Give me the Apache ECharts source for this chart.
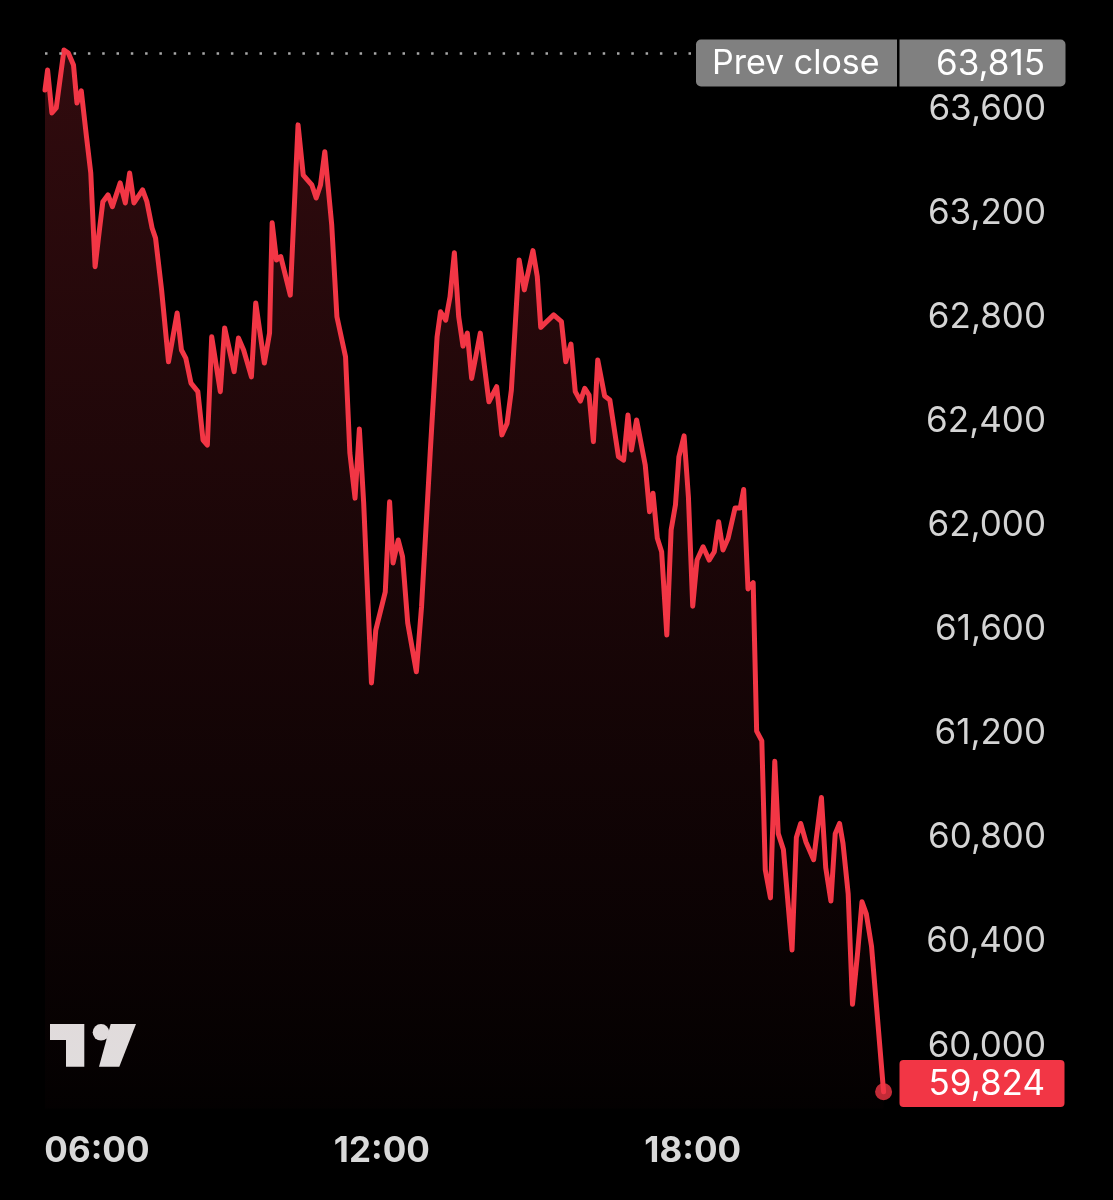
<!DOCTYPE html>
<html><head><meta charset="utf-8">
<script src="https://cdn.jsdelivr.net/npm/echarts@6/dist/echarts.min.js"></script>
<style>html,body{margin:0;padding:0;background:#000;}#c{width:1113px;height:1200px;}</style>
</head><body><div id="c"></div>
<script>
// time of each point, in minutes after midnight
const minutes = [330,333,338,343,352,357,363,367,372,378,
383,388,393,397,403,408,417,423,428,433,
443,448,454,458,465,473,483,488,493,499,
507,513,518,523,533,538,549,554,560,569,
574,584,590,593,598,603,614,623,629,639,
644,649,654,662,668,678,683,689,694,699,
708,713,724,729,733,739,744,750,760,766,
776,784,788,794,799,804,809,814,819,824,
834,844,853,859,865,870,879,885,895,900,
904,919,928,933,939,944,950,955,960,965,
970,978,984,994,1000,1005,1009,1015,1025,1030,
1034,1039,1044,1050,1055,1060,1064,1070,1075,1080,
1085,1092,1099,1105,1110,1115,1121,1129,1135,1139,
1144,1150,1154,1160,1164,1170,1175,1179,1185,1195,
1200,1205,1211,1220,1229,1234,1240,1245,1250,1254,
1260,1265,1271,1276,1281,1287,1301];
const prices = [63673,63750,63585,63604,63827,63815,63769,63623,63670,63494,
63354,62994,63135,63244,63270,63225,63316,63239,63354,63239,
63289,63244,63143,63104,62905,62629,62816,62674,62643,62547,
62514,62328,62309,62725,62514,62759,62591,62720,62674,62571,
62855,62624,62739,63163,63020,63033,62885,63539,63346,63308,
63258,63308,63436,63154,62802,62648,62278,62105,62371,62086,
61395,61598,61745,62091,61856,61944,61880,61625,61438,61688,
62278,62725,62821,62789,62879,63048,62802,62689,62739,62565,
62739,62475,62533,62348,62392,62520,63020,62905,63056,62956,
62761,62809,62783,62629,62697,62514,62478,62527,62501,62322,
62636,62497,62482,62264,62251,62424,62290,62405,62232,62053,
62124,61951,61899,61579,61983,62079,62264,62344,62110,61690,
61867,61918,61867,61899,62014,61906,61951,62067,62067,62138,
61756,61780,61210,61172,60677,60569,61094,60816,60755,60369,
60801,60855,60785,60716,60955,60685,60557,60816,60855,60778,
60585,60160,60361,60554,60508,60384,59824];
const priceTicks = [60000,60400,60800,61200,61600,62000,62400,62800,63200,63600];
const timeTicks = [360,720,1080];
const timeLabels = ['06:00','12:00','18:00'];
const prevClose = 63815;
const prevCloseText = 'Prev close';

const RED = '#f23645';
const FONT = 'Inter, "Noto Sans", sans-serif';
const fmt = v => Math.round(v).toLocaleString('en-US');
const lastIdx = prices.length - 1;

const chart = echarts.init(document.getElementById('c'), null, {renderer:'canvas'});
chart.setOption({
  backgroundColor:'#000',
  animation:false,
  grid:{left:45, right:213, top:36.12, bottom:91.53, containLabel:false, outerBoundsMode:'none'},
  xAxis:{
    type:'value', min:330, max:1320,
    axisLine:{show:false}, axisTick:{show:false}, splitLine:{show:false},
    axisLabel:{
      customValues:timeTicks, margin:25, hideOverlap:false,
      formatter:(v)=>{ const i=timeTicks.indexOf(v); const s=timeLabels[i]; return i===0?'{f|'+s+'}':'{n|'+s+'}'; },
      rich:{
        f:{color:'#d9d9d9', fontFamily:FONT, fontWeight:'bold', fontSize:35, lineHeight:36, padding:[0,0,0,52]},
        n:{color:'#d9d9d9', fontFamily:FONT, fontWeight:'bold', fontSize:35, lineHeight:36}
      }
    }
  },
  yAxis:{
    type:'value', position:'right', min:59760, max:63880, scale:true,
    axisLine:{show:false}, axisTick:{show:false}, splitLine:{show:false},
    axisLabel:{customValues:priceTicks, formatter:fmt, color:'#d4d4d4', fontFamily:FONT, fontSize:35, align:'right', margin:146}
  },
  series:[
    {
      type:'line', data:minutes.map((m,i)=>[m,prices[i]]),
      symbol:'none', smooth:false,
      lineStyle:{color:RED, width:5, join:'round', cap:'round'},
      areaStyle:{color:new echarts.graphic.LinearGradient(0,0,0,1,[
        {offset:0,color:'rgba(242,54,69,0.29)'},
        {offset:1,color:'rgba(242,54,69,0.02)'}])},
      markLine:{
        silent:true, symbol:['none','none'], label:{show:false},
        lineStyle:{color:'#a8a8a8', type:[2.5,11.8], width:2.5},
        data:[{yAxis:prevClose}]
      },
      z:3
    },
    {
      type:'scatter', data:[[minutes[lastIdx], prices[lastIdx]]],
      symbolSize:17, itemStyle:{color:RED}, z:4
    }
  ],
  graphic:[
    {type:'rect', shape:{x:694, y:38, width:374, height:51}, style:{fill:'#000'}, z:10},
    {type:'rect', shape:{x:696, y:39.5, width:201, height:47, r:[5,0,0,5]}, style:{fill:'#808080'}, z:11},
    {type:'rect', shape:{x:899.5, y:39.5, width:166, height:47, r:[0,5,5,0]}, style:{fill:'#808080'}, z:11},
    {type:'text', x:712, y:64, style:{text:prevCloseText, fill:'#fff', font:'34px '+FONT, verticalAlign:'middle', textAlign:'left'}, z:12},
    {type:'text', x:1045, y:64, style:{text:fmt(prevClose), fill:'#fff', font:'35px '+FONT, verticalAlign:'middle', textAlign:'right'}, z:12},
    {type:'rect', shape:{x:899.5, y:1060, width:165, height:47, r:4}, style:{fill:RED}, z:11},
    {type:'text', x:1045, y:1084, style:{text:fmt(prices[lastIdx]), fill:'#fff', font:'35px '+FONT, verticalAlign:'middle', textAlign:'right'}, z:12},
    {type:'group', z:12, children:[
      {type:'polygon', shape:{points:[[50,1024],[84.3,1024],[84.3,1066.7],[66,1066.7],[66,1040],[50,1040]]}, style:{fill:'#e0e0e0'}},
      {type:'circle', shape:{cx:101, cy:1032.3, r:8.3}, style:{fill:'#e0e0e0'}},
      {type:'polygon', shape:{points:[[110.7,1024],[136,1024],[119.3,1066.7],[99,1066.7]]}, style:{fill:'#e0e0e0'}}
    ]}
  ]
});
</script></body></html>
